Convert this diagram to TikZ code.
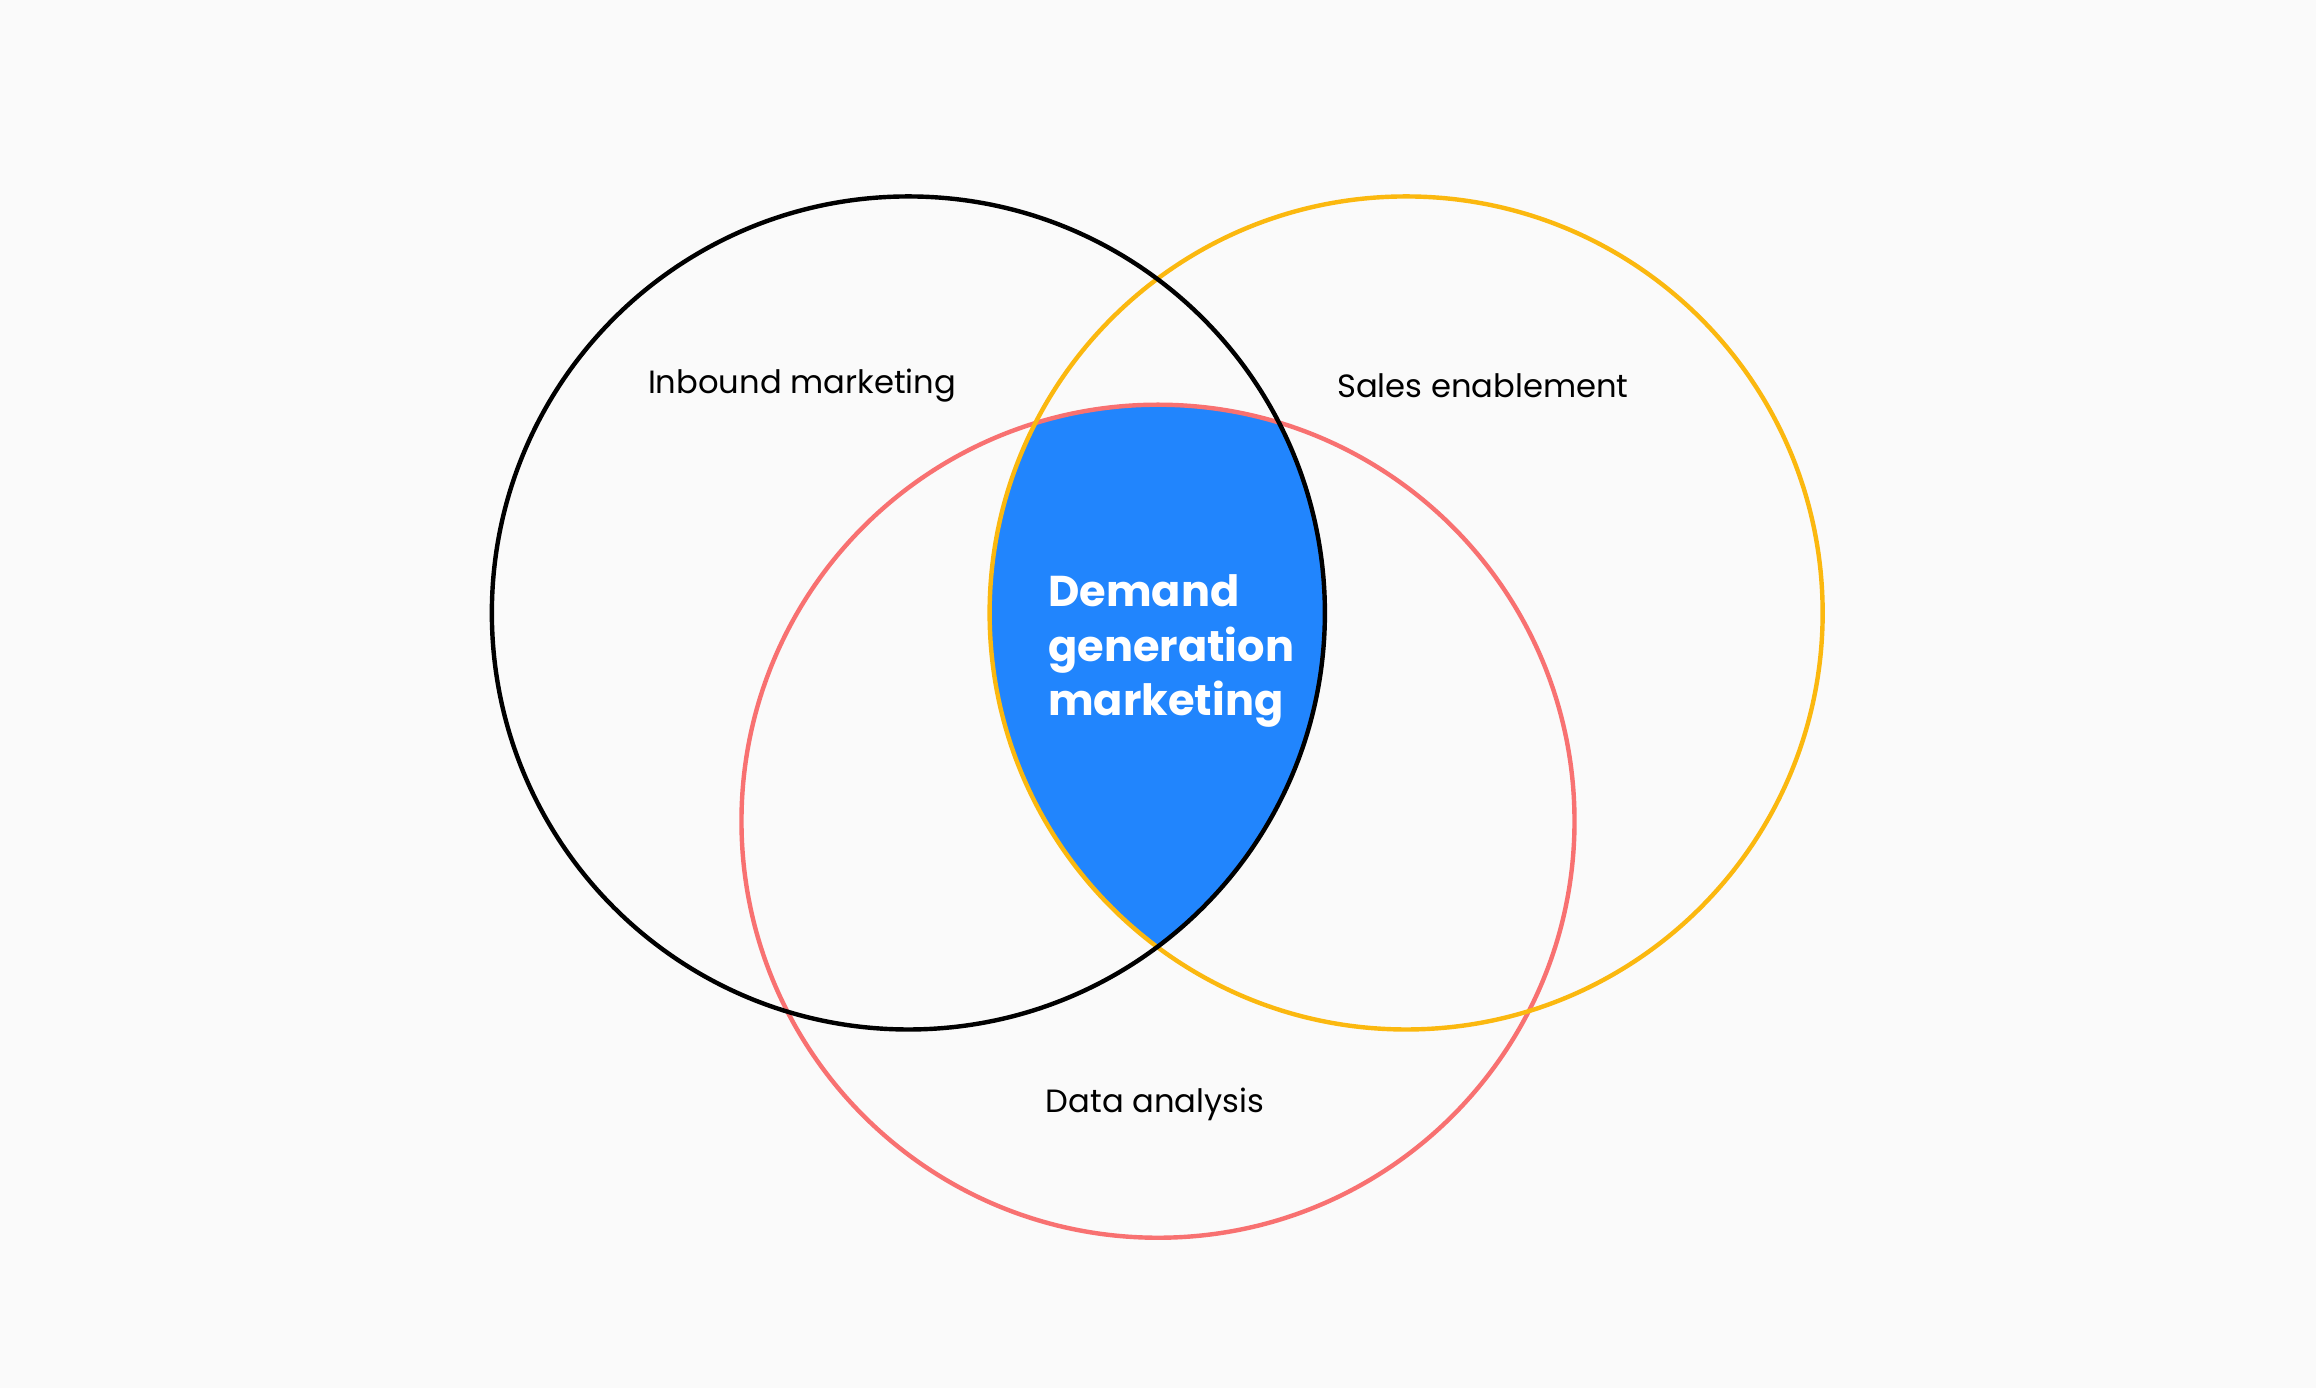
\documentclass[tikz,border=0pt]{standalone}
\usepackage{fontspec}
\setmainfont{Poppins}
\definecolor{bg}{HTML}{FAFAFA}
\definecolor{bl}{HTML}{2185FD}
\definecolor{yl}{HTML}{FBB80F}
\definecolor{rd}{HTML}{F87171}
\begin{document}
\begin{tikzpicture}[x=0.01cm,y=-0.01cm,ring/.style={line width=0.85pt},lbl/.style={font=\fontsize{6.2}{7}\selectfont}]
\useasboundingbox (0,0) rectangle (1568,940);
\fill[bg] (0,0) rectangle (1568,940);
\begin{scope}
\clip (615,415) circle[radius=282];
\clip (952,415) circle[radius=282];
\fill[bl] (784,556) circle[radius=282];
\end{scope}
\draw[ring,rd] (784,556) circle[radius=282];
\draw[ring,yl] (952,415) circle[radius=282];
\draw[ring,black] (615,415) circle[radius=282];
\node[lbl] (a) at (543,261) {Inbound marketing};
\node[lbl] (b) at (1004,261) {Sales enablement};
\node[lbl] (c) at (782,748) {Data analysis};
\node[anchor=west,align=left,text=white,font=\fontsize{8.3}{10.5}\selectfont\bfseries,inner sep=0] (d) at (709,441) {Demand\\generation\\marketing};
\end{tikzpicture}
\end{document}
